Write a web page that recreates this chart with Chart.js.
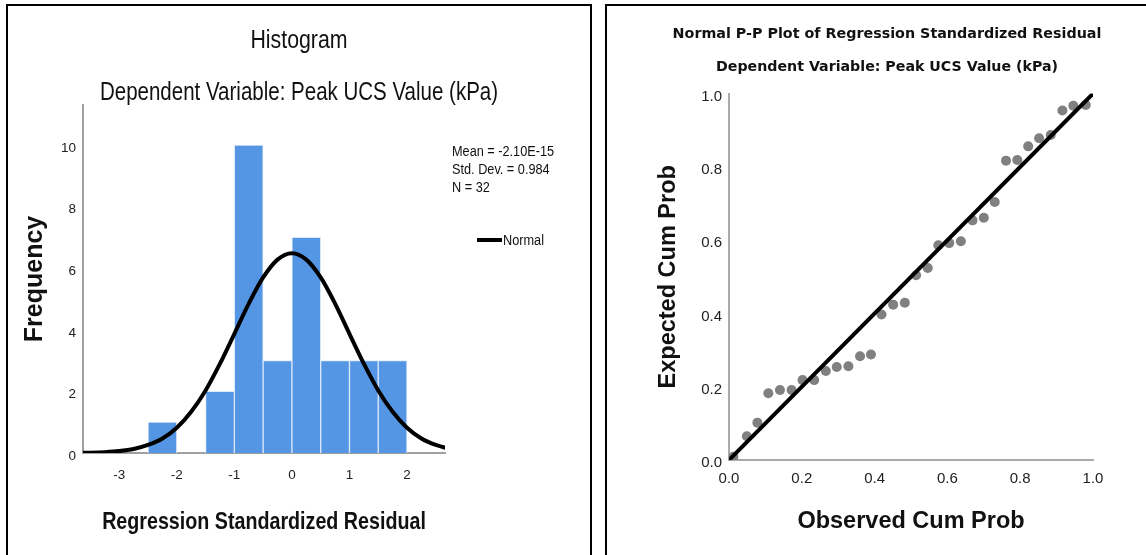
<!DOCTYPE html>
<html>
<head>
<meta charset="utf-8">
<script src="https://cdn.jsdelivr.net/npm/chart.js@4.4.1/dist/chart.umd.min.js"></script>
<style>
  html, body { margin: 0; padding: 0; background: #fff; overflow: hidden; width: 1146px; height: 555px; }
  .panel { position: absolute; top: 4px; border: 2px solid #000; box-sizing: border-box; height: 620px; }
  #leftPanel { left: 6px; width: 586px; }
  #rightPanel { left: 605px; width: 620px; }
  canvas { position: absolute; left: 0; top: 0; }
</style>
</head>
<body>
<div class="panel" id="leftPanel"><canvas id="histChart" width="582" height="549" style="width:582px;height:549px"></canvas></div>
<div class="panel" id="rightPanel"><canvas id="ppChart" width="560" height="549" style="width:560px;height:549px"></canvas></div>
<script>
// histogram of residuals, bins of 0.5
const binCenters = [-2.25, -1.75, -1.25, -0.75, -0.25, 0.25, 0.75, 1.25, 1.75];
const binCounts = [1, 0, 2, 10, 3, 7, 3, 3, 3];

// normal curve
const curveX = [-3.75, -3.5, -3.25, -3, -2.75, -2.5, -2.25, -2, -1.75, -1.5, -1.25, -1, -0.75, -0.5, -0.25,
                0, 0.25, 0.5, 0.75, 1, 1.25, 1.5, 1.75, 2, 2.25, 2.5, 2.75];
const curveY = [0.004, 0.011, 0.028, 0.062, 0.13, 0.26, 0.47, 0.82, 1.34, 2.03, 2.9, 3.87, 4.85, 5.7, 6.28,
                6.49, 6.28, 5.7, 4.85, 3.87, 2.9, 2.03, 1.34, 0.82, 0.47, 0.26, 0.13];

const statsLines = ['Mean = -2.10E-15', 'Std. Dev. = 0.984', 'N = 32'];

// P-P plot
const observedCum = [0.012, 0.049, 0.078, 0.108, 0.140, 0.172, 0.202, 0.234, 0.266, 0.296, 0.328, 0.360,
                     0.390, 0.419, 0.451, 0.483, 0.514, 0.546, 0.575, 0.605, 0.637, 0.669, 0.700, 0.730,
                     0.761, 0.792, 0.822, 0.852, 0.884, 0.916, 0.946, 0.980];
const expectedCum = [0.009, 0.065, 0.102, 0.182, 0.191, 0.191, 0.218, 0.218, 0.243, 0.254, 0.256, 0.283,
                     0.288, 0.397, 0.424, 0.429, 0.504, 0.524, 0.586, 0.592, 0.597, 0.654, 0.661, 0.704,
                     0.817, 0.819, 0.856, 0.878, 0.887, 0.954, 0.967, 0.969];
const refLine = [0, 1];

const SANS = "'Liberation Sans', Arial, sans-serif";
const WIDE = "'DejaVu Sans', Verdana, sans-serif";
const SQUEEZE = 0.82; // no narrow face installed, so squeeze Liberation Sans

function narrowText(ctx, text, x, y, size, weight, align) {
    ctx.save();
    ctx.font = weight + ' ' + size + 'px ' + SANS;
    ctx.textAlign = align;
    ctx.textBaseline = 'middle';
    ctx.fillStyle = '#111';
    ctx.translate(x, y);
    ctx.scale(SQUEEZE, 1);
    ctx.fillText(text, 0, 0);
    ctx.restore();
}

// titles, stats box and legend of the histogram, in the condensed SPSS look
const histText = {
    id: 'histText',
    afterDraw(chart) {
        const ctx = chart.ctx;
        const area = chart.chartArea;
        const mid = chart.width / 2;
        narrowText(ctx, 'Histogram', mid, 35, 26, 'normal', 'center');
        narrowText(ctx, 'Dependent Variable: Peak UCS Value (kPa)', mid, 87, 25, 'normal', 'center');
        narrowText(ctx, 'Regression Standardized Residual', (area.left + area.right) / 2, 516, 24, 'bold', 'center');
        statsLines.forEach((t, i) => narrowText(ctx, t, 444, 146 + i * 18, 15.5, 'normal', 'left'));
        ctx.save();
        ctx.strokeStyle = '#000';
        ctx.lineWidth = 4;
        ctx.beginPath();
        ctx.moveTo(469, 234);
        ctx.lineTo(494, 234);
        ctx.stroke();
        ctx.restore();
        narrowText(ctx, 'Normal', 495, 235, 15.5, 'normal', 'left');
    }
};

new Chart(document.getElementById('histChart'), {
    type: 'bar',
    data: {
        datasets: [
            {
                type: 'line',
                label: 'Normal',
                data: curveX.map((x, i) => ({ x: x, y: curveY[i] })),
                borderColor: '#000',
                borderWidth: 4,
                pointRadius: 0,
                cubicInterpolationMode: 'monotone',
                fill: false
            },
            {
                type: 'bar',
                label: 'Frequency',
                data: binCenters.map((x, i) => ({ x: x, y: binCounts[i] })),
                backgroundColor: '#5596e4',
                borderColor: '#dce8f9',
                borderWidth: { left: 1, right: 1, top: 1, bottom: 0 },
                barPercentage: 1,
                categoryPercentage: 1
            }
        ]
    },
    options: {
        responsive: false,
        animation: false,
        events: [],
        layout: { padding: { top: 99, right: 145, left: 0, bottom: 0 } },
        plugins: {
            legend: { display: false },
            tooltip: { enabled: false }
        },
        scales: {
            x: {
                type: 'linear',
                min: -3.63,
                max: 2.66,
                offset: false,
                grid: { display: false, drawTicks: false, offset: false },
                border: { display: true, color: '#a0a0a0', width: 2 },
                ticks: { stepSize: 1, includeBounds: false, padding: 14, color: '#222', font: { family: SANS, size: 13.5 } },
                afterFit: s => { s.height = 102; }
            },
            y: {
                type: 'linear',
                min: 0,
                max: 11.3,
                grid: { display: false, drawTicks: false },
                border: { display: true, color: '#a0a0a0', width: 2 },
                ticks: { stepSize: 2, includeBounds: false, padding: 7, labelOffset: 3, color: '#222', font: { family: SANS, size: 13.5 } },
                title: {
                    display: true,
                    text: 'Frequency',
                    color: '#111',
                    font: { family: SANS, size: 25, weight: 'bold', lineHeight: 1.2 },
                    padding: { top: 12, bottom: 0 }
                },
                afterFit: s => { s.width = 75; }
            }
        }
    },
    plugins: [histText]
});

// empty axis on the right, only there so the titles centre on the whole panel
function padAxis(width) {
    return {
        type: 'linear',
        position: 'right',
        grid: { display: false },
        border: { display: false },
        ticks: { display: false },
        afterFit: s => { s.width = width; }
    };
}

new Chart(document.getElementById('ppChart'), {
    type: 'scatter',
    data: {
        datasets: [
            {
                label: 'Reference',
                data: refLine.map(v => ({ x: v, y: v })),
                showLine: true,
                borderColor: '#000',
                borderWidth: 4,
                pointRadius: 0
            },
            {
                label: 'Residuals',
                data: observedCum.map((x, i) => ({ x: x, y: expectedCum[i] })),
                backgroundColor: '#808080',
                borderWidth: 0,
                pointRadius: 5
            }
        ]
    },
    options: {
        responsive: false,
        animation: false,
        events: [],
        layout: { padding: 0 },
        plugins: {
            legend: { display: false },
            tooltip: { enabled: false },
            title: {
                display: true,
                text: 'Normal P-P Plot of Regression Standardized Residual',
                color: '#111',
                font: { family: WIDE, size: 14.3, weight: 'bold', lineHeight: 1.2 },
                padding: { top: 19.4, bottom: 5 }
            },
            subtitle: {
                display: true,
                text: 'Dependent Variable: Peak UCS Value (kPa)',
                color: '#111',
                font: { family: WIDE, size: 14.2, weight: 'bold', lineHeight: 1.2 },
                padding: { top: 11.4, bottom: 17.6 }
            }
        },
        scales: {
            x: {
                type: 'linear',
                min: 0,
                max: 1,
                grid: { display: false, drawTicks: false },
                border: { display: true, color: '#aaaaaa', width: 2 },
                ticks: { stepSize: 0.2, padding: 10, color: '#222', font: { family: SANS, size: 15 }, callback: v => v.toFixed(1) },
                title: {
                    display: true,
                    text: 'Observed Cum Prob',
                    color: '#111',
                    font: { family: SANS, size: 23.5, weight: 'bold', lineHeight: 1.2 },
                    padding: { top: 0, bottom: 18.9 }
                },
                afterFit: s => { s.height = 95; }
            },
            y: {
                type: 'linear',
                min: 0,
                max: 1,
                grid: { display: false, drawTicks: false },
                border: { display: true, color: '#aaaaaa', width: 2 },
                ticks: { stepSize: 0.2, padding: 7, labelOffset: 3, color: '#222', font: { family: SANS, size: 15 }, callback: v => v.toFixed(1) },
                title: {
                    display: true,
                    text: 'Expected Cum Prob',
                    color: '#111',
                    font: { family: SANS, size: 23.5, weight: 'bold', lineHeight: 1.2 },
                    padding: { top: 47.5, bottom: 0 }
                },
                afterFit: s => { s.width = 122; }
            },
            pad: padAxis(74)
        }
    }
});
</script>
</body>
</html>
